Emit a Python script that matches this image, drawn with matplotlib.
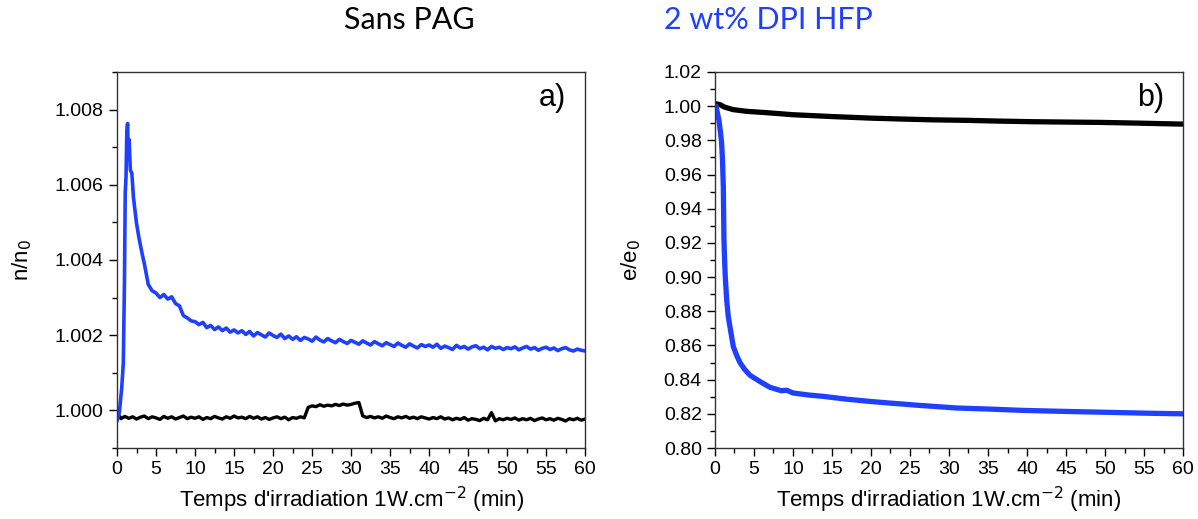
import numpy as np
import matplotlib
matplotlib.use("Agg")
import matplotlib.pyplot as plt
from matplotlib.ticker import MultipleLocator, FormatStrFormatter

plt.rcParams['font.family'] = ['Liberation Sans', 'DejaVu Sans']

BLUE = '#2040FF'

# --- a) n/n0, sans PAG (noir) et 2 wt% DPI HFP (bleu) ---
t_a_early = [0, 0.3, 0.6, 0.8, 0.95, 1.05, 1.15, 1.25, 1.35, 1.45, 1.55, 1.7, 1.9,
             2.1, 2.5, 2.8, 3.2, 3.5]
n_blue_early = [0.99973, 0.99995, 1.00060, 1.00125, 1.00340, 1.00580, 1.00620, 1.00740,
                1.00763, 1.00680, 1.00720, 1.00640, 1.00630, 1.00567, 1.00497, 1.00460,
                1.00418, 1.00390]

t_a_late = [4, 4.5, 5, 5.5, 6, 6.5, 7, 7.5, 8, 8.5, 9, 9.5, 10,
            10.5, 11, 11.5, 12, 12.5, 13, 13.5, 14, 14.5, 15, 15.5, 16, 16.5, 17, 17.5, 18, 18.5, 19, 19.5, 20,
            20.5, 21, 21.5, 22, 22.5, 23, 23.5, 24, 24.5, 25, 25.5, 26, 26.5, 27, 27.5, 28, 28.5, 29, 29.5, 30,
            30.5, 31, 31.5, 32, 32.5, 33, 33.5, 34, 34.5, 35, 35.5, 36, 36.5, 37, 37.5, 38, 38.5, 39, 39.5, 40,
            40.5, 41, 41.5, 42, 42.5, 43, 43.5, 44, 44.5, 45, 45.5, 46, 46.5, 47, 47.5, 48, 48.5, 49, 49.5, 50,
            50.5, 51, 51.5, 52, 52.5, 53, 53.5, 54, 54.5, 55, 55.5, 56, 56.5, 57, 57.5, 58, 58.5, 59, 59.5, 60]
n_blue_late = [1.00335, 1.00318, 1.00312, 1.00300, 1.00308, 1.00296, 1.00302, 1.00284, 1.00278, 1.00252,
               1.00246, 1.00238, 1.00236,
               1.00228, 1.00234, 1.00220, 1.00226, 1.00215, 1.00222, 1.00212, 1.00219, 1.00208, 1.00214,
               1.00206, 1.00212, 1.00202, 1.00210, 1.00198, 1.00207, 1.00201, 1.00195, 1.00206, 1.00199,
               1.00194, 1.00203, 1.00191, 1.00198, 1.00189, 1.00196, 1.00186, 1.00194, 1.00190, 1.00184,
               1.00195, 1.00187, 1.00182, 1.00191, 1.00185, 1.00180, 1.00189, 1.00183, 1.00178, 1.00186,
               1.00181, 1.00176, 1.00185, 1.00179, 1.00174, 1.00183, 1.00177, 1.00172, 1.00180, 1.00175,
               1.00170, 1.00179, 1.00173, 1.00168, 1.00177, 1.00171, 1.00166, 1.00175, 1.00170, 1.00174,
               1.00168, 1.00176, 1.00165, 1.00171, 1.00167, 1.00162, 1.00173, 1.00166, 1.00170, 1.00163,
               1.00169, 1.00172, 1.00164, 1.00168, 1.00161, 1.00170, 1.00165, 1.00168, 1.00162, 1.00167,
               1.00164, 1.00169, 1.00161, 1.00166, 1.00170, 1.00163, 1.00167, 1.00160, 1.00165, 1.00168,
               1.00162, 1.00166, 1.00159, 1.00164, 1.00167, 1.00161, 1.00158, 1.00163, 1.00160, 1.00158]

t_a_black = [0, 0.5, 1, 1.5, 2, 2.5, 3, 3.5] + t_a_late
n_black = [0.99995, 0.99978, 0.99984, 0.99979, 0.99983, 0.99977, 0.99982, 0.99985,
           0.99978, 0.99983, 0.99980, 0.99976, 0.99984, 0.99979, 0.99983, 0.99977, 0.99981,
           0.99985, 0.99978, 0.99982, 0.99979,
           0.99983, 0.99976, 0.99981, 0.99978, 0.99984, 0.99980, 0.99977, 0.99983, 0.99979, 0.99985,
           0.99980, 0.99982, 0.99978, 0.99984, 0.99979, 0.99983, 0.99977, 0.99981, 0.99976, 0.99980,
           0.99983, 0.99978, 0.99982, 0.99975, 0.99981, 0.99979, 0.99983, 0.99980,
           1.00008, 1.00012, 1.00010, 1.00015, 1.00011, 1.00014, 1.00012, 1.00016, 1.00013, 1.00017,
           1.00014, 1.00016, 1.00019, 1.00021,
           0.99985, 0.99981, 0.99984, 0.99980, 0.99983, 0.99979, 0.99985, 0.99981, 0.99978, 0.99983,
           0.99980, 0.99984, 0.99979, 0.99982, 0.99978, 0.99983, 0.99980, 0.99977,
           0.99981, 0.99978, 0.99983, 0.99977, 0.99980, 0.99975, 0.99979, 0.99976, 0.99981, 0.99974,
           0.99978, 0.99976, 0.99973, 0.99979, 0.99975, 0.99994, 0.99972, 0.99978, 0.99975, 0.99979,
           0.99976, 0.99980, 0.99974, 0.99978, 0.99975, 0.99979, 0.99973, 0.99977, 0.99980, 0.99975,
           0.99978, 0.99974, 0.99979, 0.99976, 0.99972, 0.99978, 0.99975, 0.99979, 0.99974, 0.99977]

# --- b) e/e0 ---
t_b_black = [0, 0.3, 0.64, 1.2, 2.3, 4, 6.6, 10, 15.1, 20, 23.7, 28, 32.3, 36, 40.8, 45,
             49.4, 54, 57, 60]
e_black = [1.0015, 1.0012, 1.0009, 0.9995, 0.9980, 0.9970, 0.9962, 0.9950, 0.9939, 0.9930,
           0.9925, 0.9920, 0.9917, 0.9913, 0.9909, 0.9907, 0.9905, 0.9901, 0.9898, 0.9895]

t_b_blue = [0, 0.15, 0.3, 0.5, 0.7, 0.85, 0.95, 1.07, 1.15, 1.25, 1.32, 1.5, 1.7, 1.92, 2.35,
            2.8, 3.2, 3.8, 4.5, 5.8, 7.05, 8.5, 9.2, 10, 12, 13.9, 17, 20, 22.4, 26, 31, 35,
            39.5, 44, 48, 52, 56, 60]
e_blue = [1.0010, 0.9995, 0.9963, 0.9920, 0.9850, 0.9787, 0.9700, 0.9530, 0.9220, 0.9080,
          0.9002, 0.8868, 0.8770, 0.8710, 0.8593, 0.8540, 0.8500, 0.8460, 0.8425, 0.8388,
          0.8355, 0.8335, 0.8338, 0.8322, 0.8310, 0.8302, 0.8285, 0.8272, 0.8263, 0.8250,
          0.8234, 0.8228, 0.8220, 0.8215, 0.8211, 0.8207, 0.8203, 0.8200]

xlabel = "Temps d'irradiation 1W.cm$^{-2}$ (min)"

fig = plt.figure(figsize=(11.98, 5.19), dpi=100)
ax1 = fig.add_axes([0.0977, 0.1368, 0.3907, 0.7245])
ax2 = fig.add_axes([0.5968, 0.1368, 0.3907, 0.7245])

ax1.plot(t_a_black, n_black, color='black', lw=2.4)
ax1.plot(t_a_early + t_a_late, n_blue_early + n_blue_late, color=BLUE, lw=2.6)
ax1.set_ylim(0.999, 1.009)
ax1.yaxis.set_major_locator(MultipleLocator(0.002))
ax1.yaxis.set_minor_locator(MultipleLocator(0.001))
ax1.yaxis.set_major_formatter(FormatStrFormatter('%.3f'))
ax1.set_ylabel('n/n$_0$', fontsize=16, labelpad=15)
ax1.text(0.93, 0.93, 'a)', transform=ax1.transAxes, fontsize=22, ha='center', va='center')

ax2.plot(t_b_black, e_black, color='black', lw=3.8, solid_capstyle='butt')
ax2.plot(t_b_blue, e_blue, color=BLUE, lw=3.8, solid_capstyle='butt')
ax2.set_ylim(0.80, 1.02)
ax2.yaxis.set_major_locator(MultipleLocator(0.02))
ax2.yaxis.set_minor_locator(MultipleLocator(0.01))
ax2.yaxis.set_major_formatter(FormatStrFormatter('%.2f'))
ax2.set_ylabel('e/e$_0$', fontsize=16, labelpad=15)
ax2.text(0.93, 0.93, 'b)', transform=ax2.transAxes, fontsize=22, ha='center', va='center')

for ax in (ax1, ax2):
    ax.set_xlim(0, 60)
    ax.xaxis.set_major_locator(MultipleLocator(5))
    ax.xaxis.set_minor_locator(MultipleLocator(2.5))
    ax.set_xlabel(xlabel, fontsize=16, labelpad=5)
    ax.tick_params(which='major', direction='out', length=6, width=1, labelsize=14)
    ax.tick_params(which='minor', direction='out', length=3.5, width=1)
    ax.tick_params(top=False, right=False)
    for sp in ax.spines.values():
        sp.set_color('#333333')
        sp.set_linewidth(1)

fig.text(0.3414, 0.962, 'Sans PAG', fontsize=22, family=['Lato', 'DejaVu Sans'],
         ha='center', va='center', color='black')
fig.text(0.641, 0.962, '2 wt% DPI HFP', fontsize=22, family=['Lato', 'DejaVu Sans'],
         ha='center', va='center', color=BLUE)

fig.savefig('out.png', dpi=100)
